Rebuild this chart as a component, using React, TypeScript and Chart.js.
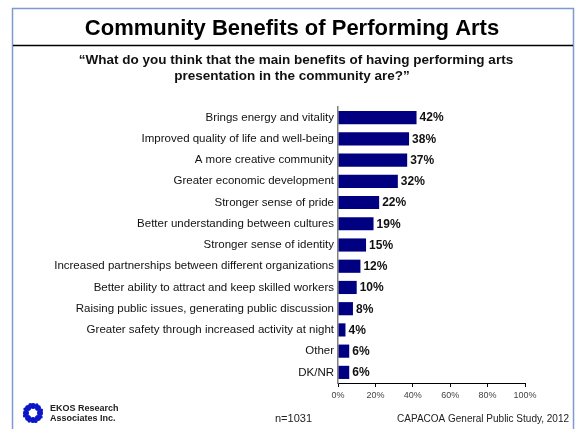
import React, { useEffect, useRef } from "react";
import { Chart, registerables } from "chart.js";

Chart.register(...registerables);

const categories = [
  "Brings energy and vitality",
  "Improved quality of life and well-being",
  "A more creative community",
  "Greater economic development",
  "Stronger sense of pride",
  "Better understanding between cultures",
  "Stronger sense of identity",
  "Increased partnerships between different organizations",
  "Better ability to attract and keep skilled workers",
  "Raising public issues, generating public discussion",
  "Greater safety through increased activity at night",
  "Other",
  "DK/NR",
];
const values = [42, 38, 37, 32, 22, 19, 15, 12, 10, 8, 4, 6, 6];
const xTicks = [0, 20, 40, 60, 80, 100];

const titleText = "Community Benefits of Performing Arts";
const subtitleLines = [
  "\u201CWhat do you think that the main benefits of having performing arts",
  "presentation in the community are?\u201D",
];
const sampleText = "n=1031";
const sourceText = "CAPACOA General Public Study, 2012";
const logoLines = ["EKOS Research", "Associates Inc."];

const FONT = '"Liberation Sans", Arial, Helvetica, sans-serif';

const decorPlugin = {
  id: "decor",
  beforeDraw(chart: any) {
    const ctx = chart.ctx;
    ctx.save();
    ctx.fillStyle = "#ffffff";
    ctx.fillRect(0, 0, chart.width, chart.height);
    ctx.restore();
  },
  afterDraw(chart: any) {
    const ctx = chart.ctx;
    ctx.save();
    // frame
    ctx.strokeStyle = "#7d9bd1";
    ctx.lineWidth = 1.5;
    ctx.beginPath();
    ctx.moveTo(12.5, 440);
    ctx.lineTo(12.5, 8.5);
    ctx.lineTo(573.5, 8.5);
    ctx.lineTo(573.5, 440);
    ctx.stroke();
    // title underline
    ctx.strokeStyle = "#000000";
    ctx.lineWidth = 1.5;
    ctx.beginPath();
    ctx.moveTo(13, 45.5);
    ctx.lineTo(573, 45.5);
    ctx.stroke();
    // title
    ctx.fillStyle = "#000000";
    ctx.textAlign = "center";
    ctx.textBaseline = "middle";
    ctx.font = `bold 22px ${FONT}`;
    ctx.fillText(titleText, 292, 29);
    ctx.font = `bold 13.5px ${FONT}`;
    ctx.fillStyle = "#111111";
    ctx.fillText(subtitleLines[0], 296, 60);
    ctx.fillText(subtitleLines[1], 292, 76);
    // footer
    ctx.font = `11px ${FONT}`;
    ctx.fillStyle = "#222222";
    ctx.textAlign = "left";
    ctx.fillText(sampleText, 275, 419);
    ctx.font = `10px ${FONT}`;
    ctx.textAlign = "right";
    ctx.fillText(sourceText, 569, 419);
    // logo text
    ctx.font = `bold 9px ${FONT}`;
    ctx.textAlign = "left";
    ctx.fillStyle = "#222222";
    ctx.fillText(logoLines[0], 50, 409);
    ctx.fillText(logoLines[1], 50, 419);
    // logo ring
    const cx = 33, cy = 413;
    ctx.fillStyle = "#0a14c8";
    for (let i = 0; i < 8; i++) {
      const a = (i / 8) * Math.PI * 2;
      const x = cx + Math.cos(a) * 7;
      const y = cy + Math.sin(a) * 7;
      ctx.beginPath();
      ctx.arc(x, y, 3, 0, Math.PI * 2);
      ctx.fill();
      const a2 = a + 0.45;
      ctx.beginPath();
      ctx.arc(cx + Math.cos(a2) * 9, cy + Math.sin(a2) * 9, 1.6, 0, Math.PI * 2);
      ctx.fill();
    }
    ctx.fillStyle = "#ffffff";
    ctx.beginPath();
    ctx.arc(cx, cy, 3.5, 0, Math.PI * 2);
    ctx.fill();
    ctx.restore();
  },
};

const valueLabelPlugin = {
  id: "valueLabels",
  afterDatasetsDraw(chart: any) {
    const ctx = chart.ctx;
    const meta = chart.getDatasetMeta(0);
    ctx.save();
    ctx.font = `bold 12px ${FONT}`;
    ctx.fillStyle = "#111111";
    ctx.textAlign = "left";
    ctx.textBaseline = "middle";
    meta.data.forEach((bar: any, i: number) => {
      ctx.fillText(values[i] + "%", bar.x + 3, bar.y + 0.5);
    });
    ctx.restore();
  },
};

export default function App() {
  const ref = useRef<HTMLCanvasElement | null>(null);
  useEffect(() => {
    if (!ref.current) return;
    const chart = new Chart(ref.current, {
      type: "bar",
      data: {
        labels: categories,
        datasets: [
          {
            data: values,
            backgroundColor: "#000080",
            borderWidth: 0,
            barPercentage: 0.62,
            categoryPercentage: 1,
          },
        ],
      },
      options: {
        indexAxis: "y",
        responsive: false,
        animation: false,
        devicePixelRatio: 1,
        layout: { padding: { left: 0, right: 52, top: 107, bottom: 0 } },
        plugins: {
          legend: { display: false },
          tooltip: { enabled: false },
          title: { display: false },
        },
        scales: {
          x: {
            type: "linear",
            min: 0,
            max: 100,
            afterBuildTicks(scale: any) {
              scale.ticks = xTicks.map((v) => ({ value: v }));
            },
            afterFit(scale: any) {
              scale.height = 46;
            },
            ticks: {
              callback: (v: any) => v + "%",
              font: { family: FONT, size: 9 },
              color: "#444444",
              padding: 3,
              maxRotation: 0,
            },
            grid: {
              drawOnChartArea: false,
              drawTicks: true,
              tickLength: 4,
              color: "#000000",
            },
            border: { display: true, color: "#000000", width: 1 },
          },
          y: {
            type: "category",
            afterFit(scale: any) {
              scale.width = 338;
            },
            ticks: {
              autoSkip: false,
              font: { family: FONT, size: 11.5 },
              color: "#111111",
              padding: 4,
            },
            grid: { display: false, drawTicks: false },
            border: { display: true, color: "#808080", width: 1.5 },
          },
        },
      },
      plugins: [decorPlugin, valueLabelPlugin],
    });
    return () => chart.destroy();
  }, []);
  return (
    <div style={{ position: "absolute", left: 0, top: 0, width: 577, height: 429, background: "#fff" }}>
      <canvas ref={ref} width={577} height={429} style={{ display: "block" }} />
    </div>
  );
}
